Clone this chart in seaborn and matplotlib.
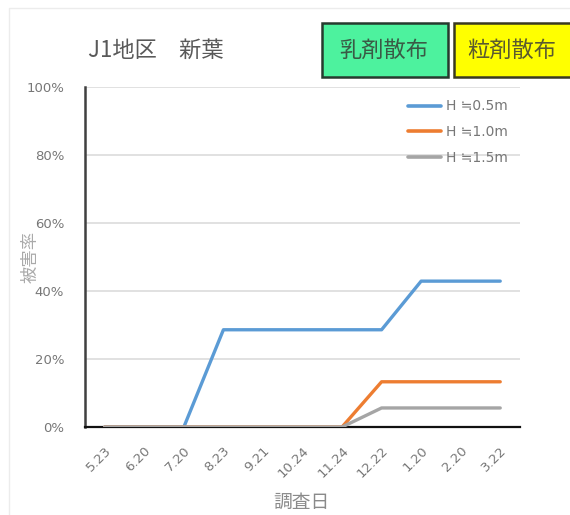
import matplotlib
matplotlib.use("Agg")
import matplotlib.pyplot as plt
from matplotlib.patches import Rectangle
from matplotlib.lines import Line2D
import seaborn as sns
import pandas as pd

# survey dates and damage rate (fraction) per height class
dates = ["5.23", "6.20", "7.20", "8.23", "9.21", "10.24", "11.24",
         "12.22", "1.20", "2.20", "3.22"]
h05 = [0, 0, 0, 0.286, 0.286, 0.286, 0.286, 0.286, 0.429, 0.429, 0.429]
h10 = [0, 0, 0, 0, 0, 0, 0, 0.133, 0.133, 0.133, 0.133]
h15 = [0, 0, 0, 0, 0, 0, 0, 0.056, 0.056, 0.056, 0.056]
series_names = ["H ≒0.5m", "H ≒1.0m", "H ≒1.5m"]
yticks = [0, 0.2, 0.4, 0.6, 0.8, 1.0]
ytick_labels = ["0%", "20%", "40%", "60%", "80%", "100%"]

sns.set_theme(style="white")
plt.rcParams["font.family"] = ["DejaVu Sans", "Noto Sans CJK JP"]
CJK = ["Noto Sans CJK JP", "DejaVu Sans"]

df = pd.DataFrame({
    "調査日": dates * 3,
    "被害率": h05 + h10 + h15,
    "系列": [series_names[0]] * len(dates) + [series_names[1]] * len(dates)
            + [series_names[2]] * len(dates),
})

W, H = 570, 515
fig = plt.figure(figsize=(W / 100, H / 100), dpi=100)
fig.patch.set_facecolor("white")
ax = fig.add_axes([85 / W, 1 - 427 / H, (520 - 85) / W, (427 - 87) / H])

palette = {series_names[0]: "#5B9BD5", series_names[1]: "#ED7D31",
           series_names[2]: "#A5A5A5"}
sns.lineplot(data=df, x="調査日", y="被害率", hue="系列", palette=palette,
             sort=False, linewidth=2.4, ax=ax, zorder=5, legend=False)

ax.set_xlim(-0.5, len(dates) - 0.5)
ax.set_ylim(0, 1.0)
ax.set_yticks(yticks)
ax.set_yticklabels(ytick_labels)
ax.set_xticks(range(len(dates)))
ax.set_xticklabels(dates, rotation=45, ha="right", rotation_mode="anchor")
ax.tick_params(axis="both", length=0, labelsize=9.5, colors="#777777")
ax.tick_params(axis="x", pad=12)
ax.tick_params(axis="y", pad=15)

for y in yticks[1:]:
    ax.axhline(y, color="#D9D9D9", linewidth=1.1, zorder=1)

for side in ["top", "right"]:
    ax.spines[side].set_visible(False)
ax.spines["left"].set_color("#404040")
ax.spines["left"].set_linewidth(1.8)
ax.spines["bottom"].set_color("#111111")
ax.spines["bottom"].set_linewidth(1.6)

ax.set_xlabel("調査日", fontsize=13.5, color="#8a8a8a", family=CJK)
ax.set_ylabel("被害率", fontsize=12.5, color="#aaaaaa", family=CJK)
ax.yaxis.set_label_coords(-0.105, 0.50)
ax.xaxis.set_label_coords(0.497, -0.19)

# legend
handles = [Line2D([], [], color=palette[n], linewidth=2.6) for n in series_names]
leg = ax.legend(handles, series_names, loc="upper right",
                bbox_to_anchor=(1.0, 1.0), frameon=False, fontsize=10,
                handlelength=2.4, handletextpad=0.3, labelspacing=0.85,
                labelcolor="#777777")

# title and annotation boxes
fig.text(88 / W, 1 - 50 / H, "J1地区　新葉", fontsize=16, color="#595959",
         va="center", ha="left", family=CJK)
fig.patches.append(Rectangle((322 / W, 1 - 77 / H), 126 / W, 54 / H,
                             transform=fig.transFigure, facecolor="#4DF29E",
                             edgecolor="#263a2e", linewidth=1.8))
fig.text(384 / W, 1 - 50 / H, "乳剤散布", fontsize=16, color="#3a5a45",
         va="center", ha="center", family=CJK)
fig.patches.append(Rectangle((454 / W, 1 - 77 / H), 130 / W, 54 / H,
                             transform=fig.transFigure, facecolor="#FFFF00",
                             edgecolor="#3a3a20", linewidth=1.8))
fig.text(512 / W, 1 - 50 / H, "粒剤散布", fontsize=16, color="#5a5a30",
         va="center", ha="center", family=CJK)

# faint chart-area border
fig.patches.append(Rectangle((9 / W, -0.1), 1.2, 1 - 8 / H + 0.1,
                             transform=fig.transFigure, facecolor="none",
                             edgecolor="#ececec", linewidth=1.0, zorder=0))

fig.savefig("out.png", dpi=100)
